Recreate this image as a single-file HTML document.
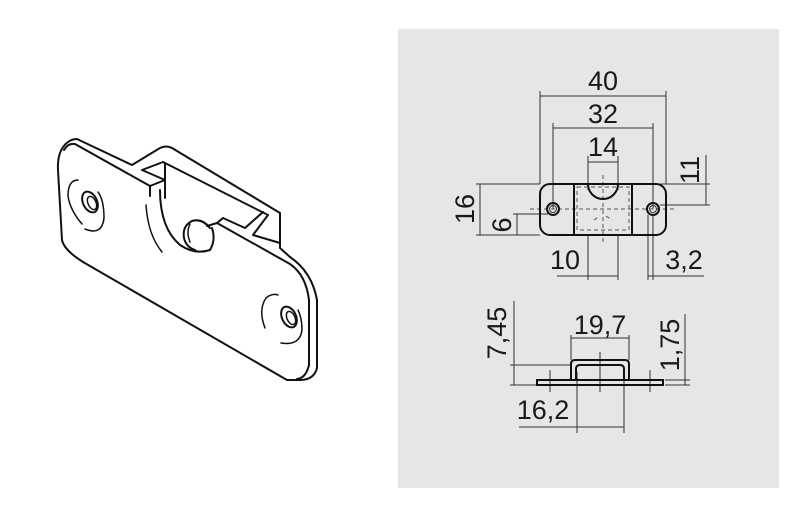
<!DOCTYPE html>
<html><head><meta charset="utf-8"><style>
html,body{margin:0;padding:0;background:#fff;}
svg{display:block;}
text{font-family:"Liberation Sans",sans-serif;fill:#1a1a1a;}
</style></head><body>
<svg width="800" height="518" viewBox="0 0 800 518" xmlns="http://www.w3.org/2000/svg">
<rect x="0" y="0" width="800" height="518" fill="#fff"/>
<rect x="398" y="29" width="381" height="459" fill="#e6e6e6"/>

<!-- Isometric part -->
<g fill="none" stroke="#111" stroke-width="2" stroke-linejoin="round" stroke-linecap="round">
  <path d="M77,139 L132,165 L160,148 Q166,145 172,148 L280,213 L280,248 L290,257 Q312,272 317,300 L317,368 Q314,380 300,380 L287,380 L83,262 Q64,250 62,240 L58,170 Q57,150 68,142 Q72,139 77,139 Z"/>
  <path d="M64,150 Q68,143 75,144 L150,186"/>
  <path d="M217,223 L290,264 Q306,275 309,300 L309,365 Q306,378 297,379"/>
  <path d="M150,186 L165,180 L142,170 L163,162 L268,215 L253,235 L280,243"/>
  <path d="M165,163 L165,198"/>
  <path d="M150,186 L150,196"/>
  <path d="M207,226 L217,223 L223,218 L245,228 L263,212"/>
  <!-- semicircle cut -->
  <path d="M160,190 Q160,228 180,245 Q195,255 210,250 Q216,240 212,228"/>
  <path d="M146,205 Q148,235 162,252" stroke-width="1.5"/>
  <!-- ball (partially visible) -->
  <path d="M210,228 Q202,218 192,221 Q182,226 184,238 Q186,247 195,250"/>
  <path d="M190,224 Q186,232 190,242" stroke-width="1.5"/>
  <!-- left hole -->
  <ellipse cx="90" cy="202" rx="7" ry="11" transform="rotate(-25 90 202)"/>
  <ellipse cx="92" cy="203" rx="4" ry="7" transform="rotate(-25 92 203)" stroke-width="1.5"/>
  <path d="M82,224 Q70,210 68,196 Q68,180 78,180" stroke-width="1.5"/>
  <path d="M85,229 Q102,236 104,218 Q104,200 98,192" stroke-width="1.5"/>
  <!-- right hole -->
  <ellipse cx="289" cy="317" rx="7" ry="11" transform="rotate(-25 289 317)"/>
  <ellipse cx="291" cy="318" rx="4" ry="7" transform="rotate(-25 291 318)" stroke-width="1.5"/>
  <path d="M265,328 Q258,310 266,298 Q272,293 278,295" stroke-width="1.5"/>
  <path d="M281,343 Q300,346 302,330 Q302,318 298,310" stroke-width="1.5"/>
</g>

<!-- Top view -->
<g fill="none" stroke="#333" stroke-width="1">
  <path d="M540,91 V184 M666,91 V184 M540,96 H666"/>
  <path d="M553,123 V209 M653,123 V209 M553,128 H653"/>
  <path d="M588,156 V190 M618,156 V190 M588,162 H618"/>
  <path d="M476,184 H540 M476,235 H540 M480,184 V235"/>
  <path d="M513,214 H548 M517,214 V235"/>
  <path d="M660,184 H710 M660,205 H710 M706,155 V205"/>
  <path d="M588,235 V280 M618,235 V280 M557,276 H618"/>
  <path d="M648,215 V280 M653,215 V280 M648,276 H704"/>
</g>
<g fill="none" stroke="#555" stroke-width="1" stroke-dasharray="4,3">
  <path d="M530,209 H677"/>
  <rect x="577" y="187" width="52" height="43"/>
  <path d="M603,175 V245"/>
  <path d="M594,220 L600,216 M606,216 L612,220"/>
</g>
<g fill="none" stroke="#111" stroke-width="2">
  <rect x="540" y="184" width="126" height="51" rx="10"/>
  <path d="M574,184 V235 M632,184 V235"/>
  <path d="M588,184 A15,15 0 0 0 618,184"/>
  <circle cx="553" cy="209" r="6"/>
  <circle cx="653" cy="209" r="6"/>
</g>
<g fill="none" stroke="#333" stroke-width="1">
  <circle cx="553" cy="209" r="3.5"/>
  <circle cx="653" cy="209" r="3.5"/>
</g>
<g font-size="27">
<text x="603" y="90" text-anchor="middle">40</text>
<text x="603" y="123" text-anchor="middle">32</text>
<text x="603" y="156" text-anchor="middle">14</text>
<text x="565" y="269" text-anchor="middle">10</text>
<text x="684" y="269" text-anchor="middle">3,2</text>
<text transform="translate(474,209) rotate(-90)" text-anchor="middle">16</text>
<text transform="translate(511,225) rotate(-90)" text-anchor="middle">6</text>
<text transform="translate(699,170) rotate(-90)" text-anchor="middle">11</text>
</g>

<!-- Side view -->
<g fill="none" stroke="#333" stroke-width="1">
  <path d="M514,301 V385 M510,365 H571 M510,385 H537"/>
  <path d="M571,335 V360 M629,335 V360 M571,338 H629"/>
  <path d="M685,314 V385 M665,380 H690 M665,385 H690"/>
  <path d="M577,372 V433 M624,372 V433 M519,427 H624"/>
  <path d="M600,352 V392 M550,370 V392 M650,370 V392"/>
</g>
<g fill="none" stroke="#111" stroke-width="2">
  <rect x="537" y="380" width="126" height="5"/>
  <path d="M571,380 V364 Q571,360 575,360 H625 Q629,360 629,364 V380"/>
  <path d="M576,380 V369 Q576,365 580,365 H620 Q624,365 624,369 V380"/>
</g>
<g font-size="27">
<text x="600" y="334" text-anchor="middle">19,7</text>
<text x="543" y="419" text-anchor="middle">16,2</text>
<text transform="translate(506,333) rotate(-90)" text-anchor="middle">7,45</text>
<text transform="translate(679,345) rotate(-90)" text-anchor="middle">1,75</text>
</g>
</svg>
</body></html>
